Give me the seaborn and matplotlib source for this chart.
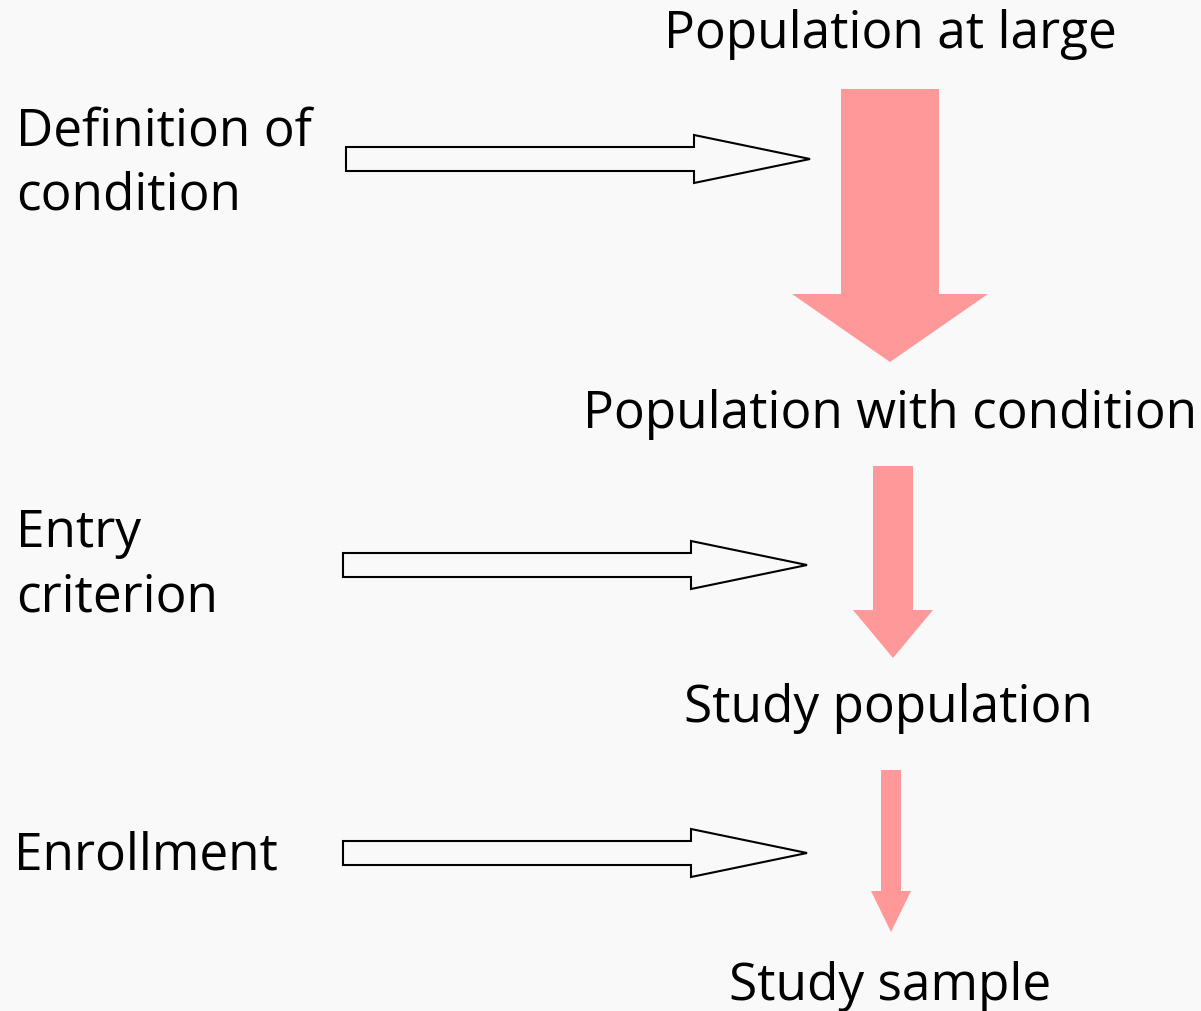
import matplotlib
matplotlib.use("Agg")
import matplotlib.pyplot as plt
from matplotlib.patches import FancyArrow
import seaborn as sns

# ---- content ----
stages = ["Population at large", "Population with condition", "Study population", "Study sample"]
steps = [["Definition of", "condition"], ["Entry", "criterion"], ["Enrollment"]]
# relative funnel widths of the pink arrows (shaft widths)
funnel_widths = [98, 40, 20]

sns.set_theme(style="white")
plt.rcParams["font.family"] = ["Open Sans", "DejaVu Sans"]

BG = "#f9f9f9"
PINK = "#ff9999"

fig = plt.figure(figsize=(12.01, 10.12), dpi=100, facecolor=BG)
ax = fig.add_axes([0, 0, 1, 1])
ax.set_facecolor(BG)
ax.set_xlim(0, 1201)
ax.set_ylim(1012, 0)
ax.axis("off")

fs = 37

# stage labels (center)
stage_pos = [(890, 48), (890, 428), (888, 722), (890, 1000)]
for lab, (x, y) in zip(stages, stage_pos):
    ax.text(x, y, lab, ha="center", va="baseline", fontsize=fs, color="black")

# pink funnel arrows
pink_geom = [  # x, y_start, length, head_length
    (890, 90, 273, 68),
    (893, 467, 192, 48),
    (891, 771, 162, 41),
]
for w, (x, y0, L, hl) in zip(funnel_widths, pink_geom):
    ax.add_patch(FancyArrow(x, y0, 0, L, width=w, head_width=2 * w,
                            head_length=hl, length_includes_head=True,
                            facecolor=PINK, edgecolor="none"))

# step labels (left), one line at a time
step_pos = [(16, 145), (16, 547), (14, 870)]
line_gap = 64
for lines, (x, y) in zip(steps, step_pos):
    for i, line in enumerate(lines):
        ax.text(x, y + i * line_gap, line, ha="left", va="baseline",
                fontsize=fs, color="black")

# hollow arrows
hollow_geom = [(346, 160, 464), (343, 566, 464), (343, 854, 464)]
for (x, y, L) in hollow_geom:
    ax.add_patch(FancyArrow(x, y, L, 0, width=24, head_width=48, head_length=116,
                            length_includes_head=True, facecolor=BG,
                            edgecolor="black", linewidth=1.5))

fig.savefig("out.png", dpi=100, facecolor=BG)
